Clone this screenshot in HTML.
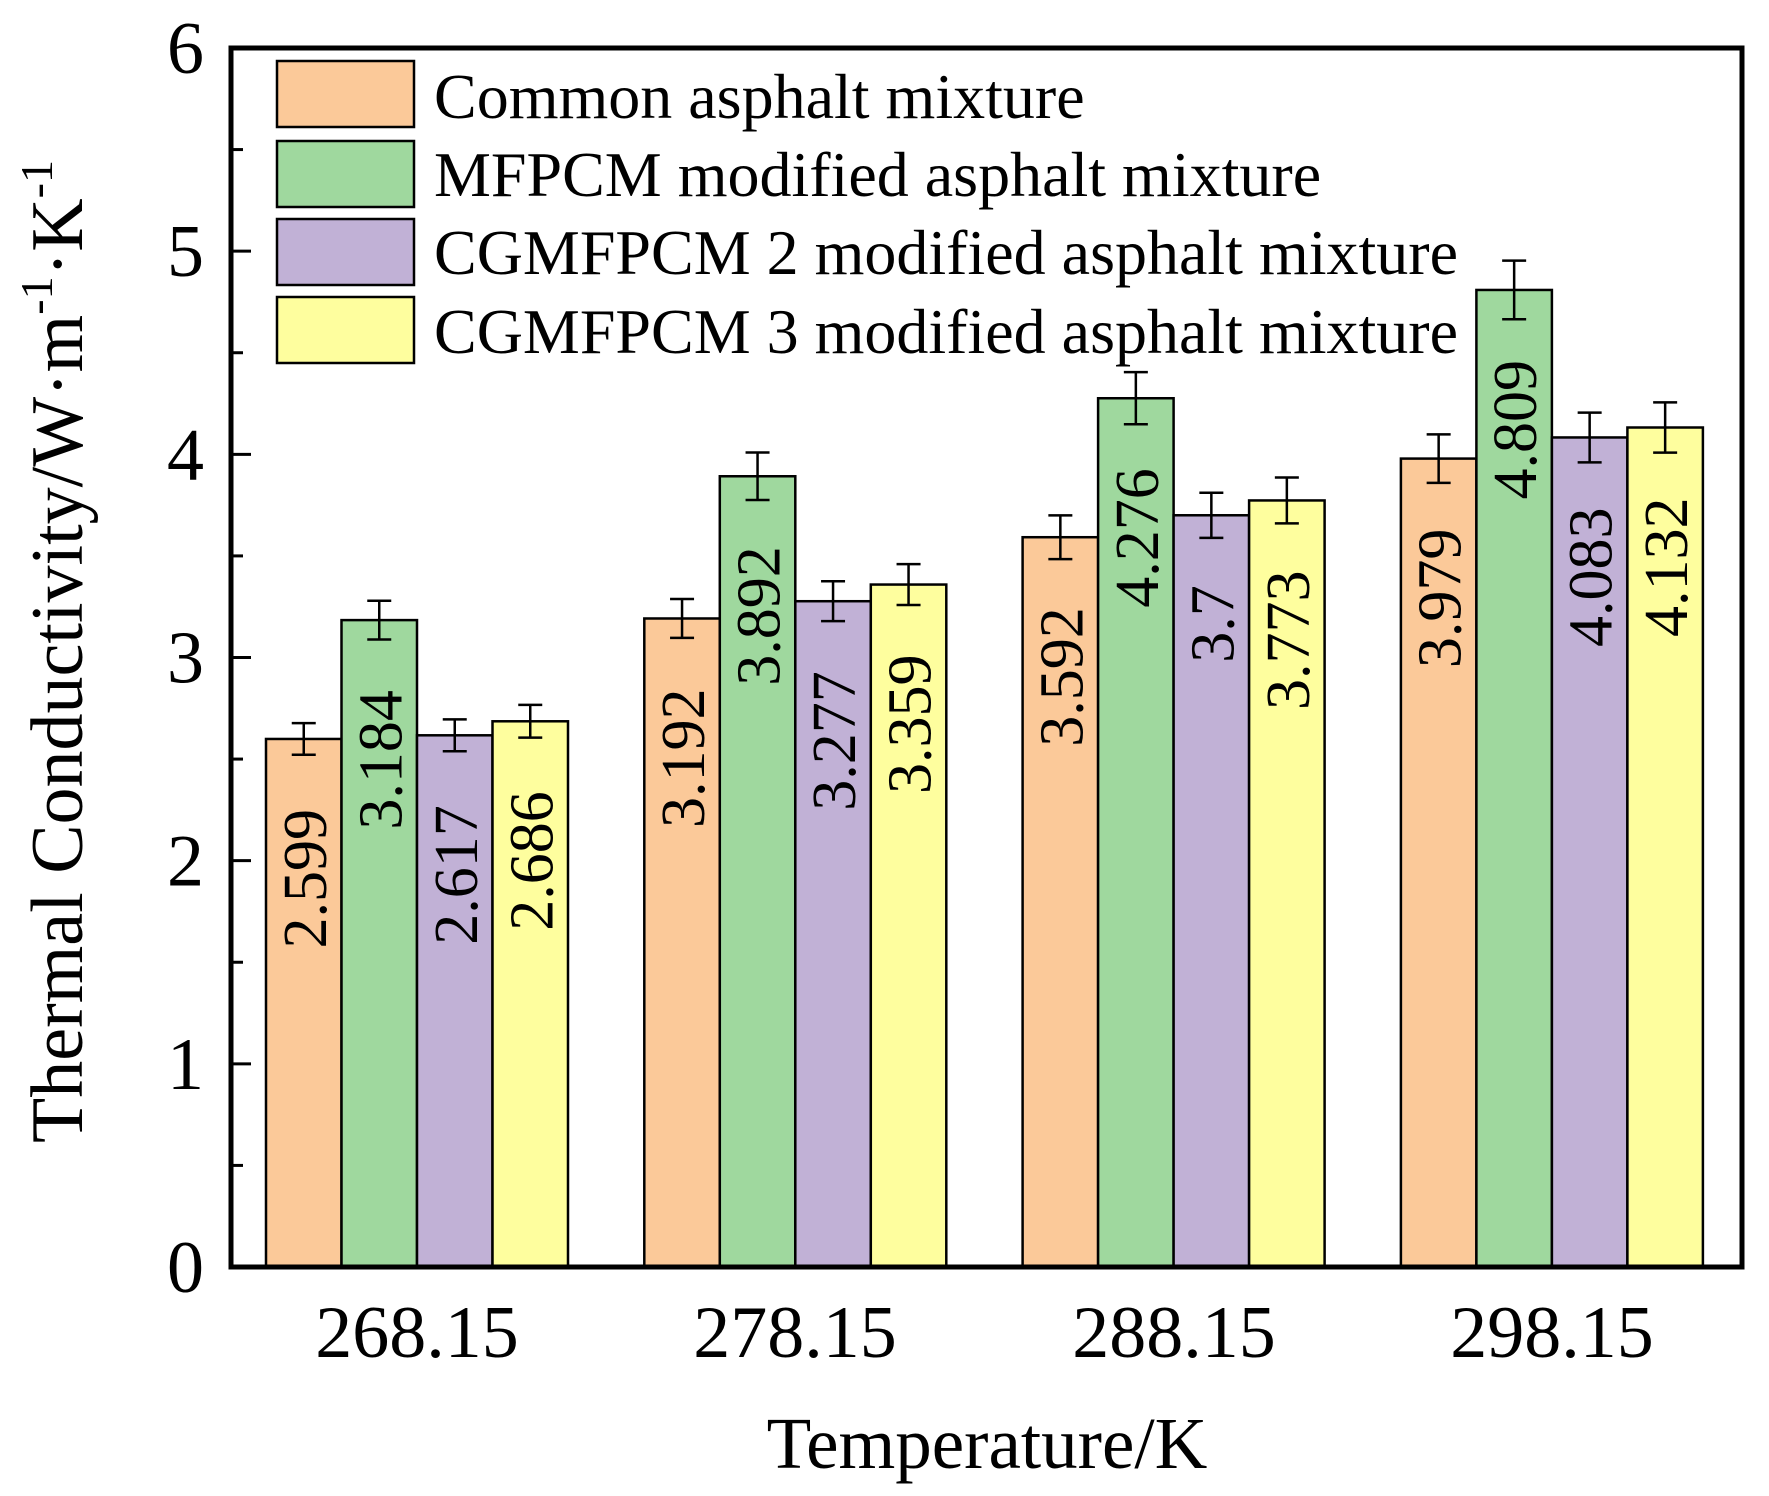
<!DOCTYPE html>
<html><head><meta charset="utf-8"><style>html,body{margin:0;padding:0;background:#fff}svg{display:block}svg text{font-family:"Liberation Serif","Times New Roman",serif}</style></head><body>
<svg width="1769" height="1496" viewBox="0 0 1769 1496" xmlns="http://www.w3.org/2000/svg">
<rect width="1769" height="1496" fill="#fff"/>
<g id="bars" stroke="#000" stroke-width="2.5"></g>
<g id="labels" font-size="62" fill="#000"></g>
<rect x="231" y="48" width="1511" height="1219" fill="none" stroke="#000" stroke-width="5"/>
<g id="ticks" stroke="#000" stroke-width="3"></g>
<g font-size="74" text-anchor="end" id="ylab"></g>
<g font-size="74" text-anchor="middle">
<text x="417" y="1357">268.15</text>
<text x="795" y="1357">278.15</text>
<text x="1174" y="1357">288.15</text>
<text x="1552" y="1357">298.15</text>
<text x="987" y="1468" font-size="73">Temperature/K</text>
</g>
<text transform="translate(82,160) rotate(-90)" text-anchor="end" font-size="74">Thermal Conductivity/W·m<tspan font-size="46" dy="-30">-1</tspan><tspan dy="30">·K</tspan><tspan font-size="46" dy="-30">-1</tspan></text>
<g stroke="#000" stroke-width="2.5">
<rect x="277" y="61" width="137" height="66" fill="#FBC999"/>
<rect x="277" y="141" width="137" height="66" fill="#9FD89E"/>
<rect x="277" y="219" width="137" height="66" fill="#C1B1D6"/>
<rect x="277" y="297" width="137" height="66" fill="#FEFE9E"/>
</g>
<g font-size="64">
<text x="434" y="118">Common asphalt mixture</text>
<text x="434" y="196">MFPCM modified asphalt mixture</text>
<text x="434" y="274">CGMFPCM 2 modified asphalt mixture</text>
<text x="434" y="353">CGMFPCM 3 modified asphalt mixture</text>
</g>
<script>
var ns="http://www.w3.org/2000/svg";
var data=[[2.599,3.184,2.617,2.686],[3.192,3.892,3.277,3.359],[3.592,4.276,3.7,3.773],[3.979,4.809,4.083,4.132]];
var cols=["#FBC999","#9FD89E","#C1B1D6","#FEFE9E"];
function Y(v){return 1267-v*203.17;}
var bars=document.getElementById("bars"),labs=document.getElementById("labels");
function el(t,a,p){var e=document.createElementNS(ns,t);for(var k in a)e.setAttribute(k,a[k]);p.appendChild(e);return e;}
for(var g=0;g<4;g++)for(var i=0;i<4;i++){
 var v=data[g][i],x=266+378.3*g+75.5*i,y=Y(v),cx=x+37.75;
 el("rect",{x:x,y:y,width:75.5,height:1267-y,fill:cols[i]},bars);
 var e=v*0.03*203.17;
 el("path",{d:"M"+cx+" "+(y-e)+"V"+(y+e)+"M"+(cx-12)+" "+(y-e)+"H"+(cx+12)+"M"+(cx-12)+" "+(y+e)+"H"+(cx+12),"stroke-width":"2.5",fill:"none"},bars);
 var t=el("text",{transform:"translate("+(cx+22)+","+(y+70)+") rotate(-90)","text-anchor":"end"},labs);
 t.textContent=String(v);
}
var tk=document.getElementById("ticks"),yl=document.getElementById("ylab");
for(var k=0;k<=12;k++){var v=k/2,y=Y(v);
 el("line",{x1:231,x2:231+(k%2?12:20),y1:y,y2:y},tk);
 if(k%2==0){var t=el("text",{x:204,y:y+25},yl);t.textContent=String(v);}
}
</script>
</svg>
</body></html>
